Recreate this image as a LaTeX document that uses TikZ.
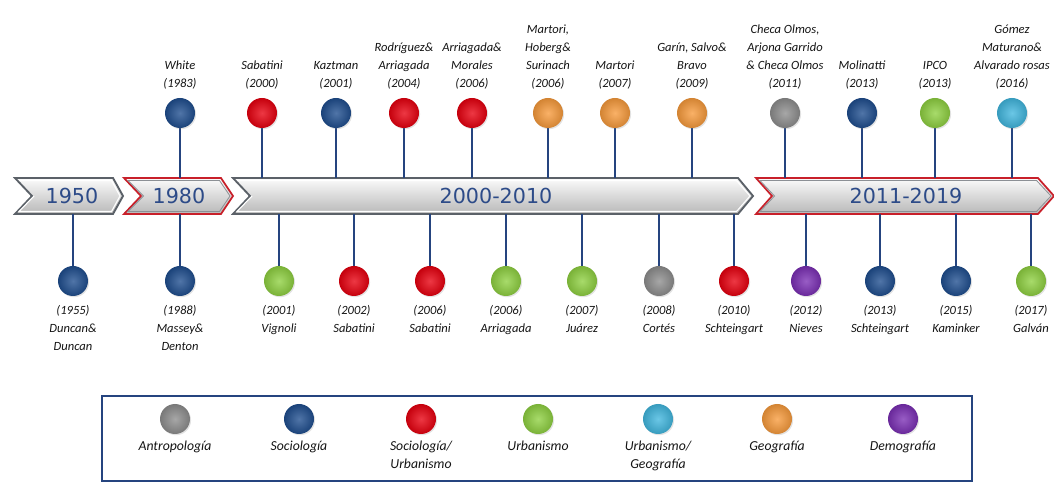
\documentclass[tikz,border=0pt]{standalone}
\usepackage{fontspec}
\setmainfont{Carlito}
\newfontfamily\ribfont{DejaVu Sans}
\usetikzlibrary{shadows}
\definecolor{cAnt}{HTML}{8E8E8E}
\definecolor{cSoc}{HTML}{1F4E8F}
\definecolor{cSU}{HTML}{E8000F}
\definecolor{cUrb}{HTML}{8FD141}
\definecolor{cUG}{HTML}{41B7DF}
\definecolor{cGeo}{HTML}{F89B3C}
\definecolor{cDem}{HTML}{7B2FB5}
\definecolor{stemc}{HTML}{25447F}
\definecolor{ribtext}{HTML}{2D4B88}
\definecolor{ribedge}{HTML}{5B6168}
\definecolor{ribred}{HTML}{C8202A}
\begin{document}
\begin{tikzpicture}[x=0.75pt,y=-0.75pt,
  pinball/.style={circle, inner sep=0pt, minimum size=22.5pt, shading=radial,
    inner color=#1!78!white, outer color=#1!85!black,
    drop shadow={opacity=0.22,shadow xshift=0.8pt,shadow yshift=-0.9pt}},
  lab/.style={align=center, font=\fontsize{9.4}{13.4}\selectfont\itshape, text=black!92, inner sep=0pt},
  leglab/.style={align=center, font=\fontsize{10.3}{13.5}\selectfont\itshape, text=black!92, inner sep=0pt},
  stemline/.style={draw=stemc, line width=1.8pt},
  seg/.style={top color=white!97!gray, bottom color=black!28!white, line join=miter},
  segedge/.style={draw=ribedge, line width=1.4pt, line join=miter},
  segred/.style={draw=ribred, line width=1.3pt, line join=miter},
  seginner/.style={draw=white, line width=0.8pt, line join=miter},
  ribtxt/.style={font=\ribfont\fontsize{15.5}{18}\selectfont, text=ribtext, inner sep=0pt}
]
\useasboundingbox (0,0) rectangle (1054,484);
\fill[white] (0,0) rectangle (1054,484);

% ---------------- ribbon segments ----------------
% 1950
\path[seg] (15,178) -- (113,178) -- (123,196) -- (113,214) -- (15,214) -- (32,196) -- cycle;
\draw[segedge] (15,178) -- (113,178) -- (123,196) -- (113,214) -- (15,214) -- (32,196) -- cycle;
\draw[seginner] (19,180.5) -- (111.5,180.5) -- (120,196) -- (111.5,211.5) -- (19,211.5) -- (34,196);
% 1980
\path[seg] (124,178) -- (221,178) -- (233,196) -- (221,214) -- (124,214) -- (141,196) -- cycle;
\draw[segred] (124,178) -- (221,178) -- (233,196) -- (221,214) -- (124,214) -- (141,196) -- cycle;
\draw[draw=ribedge!70, line width=0.6pt] (128,180.5) -- (219.5,180.5) -- (230,196) -- (219.5,211.5) -- (128,211.5) -- (143.5,196) -- cycle;
% 2000-2010
\path[seg] (233,178) -- (738,178) -- (753,196) -- (738,214) -- (233,214) -- (250,196) -- cycle;
\draw[segedge] (233,178) -- (738,178) -- (753,196) -- (738,214) -- (233,214) -- (250,196) -- cycle;
\draw[seginner] (237,180.5) -- (736.5,180.5) -- (750,196) -- (736.5,211.5) -- (237,211.5) -- (252,196);
% 2011-2019
\path[seg] (756,178) -- (1038,178) -- (1054,196) -- (1038,214) -- (756,214) -- (772,196) -- cycle;
\draw[segred] (756,178) -- (1038,178) -- (1054,196) -- (1038,214) -- (756,214) -- (772,196) -- cycle;
\draw[draw=ribedge!70, line width=0.6pt] (760,180.5) -- (1036.5,180.5) -- (1051,196) -- (1036.5,211.5) -- (760,211.5) -- (774.5,196) -- cycle;

\node[ribtxt] (r1950) at (72,196) {1950};
\node[ribtxt] (r1980) at (179,196) {1980};
\node[ribtxt] (r2000) at (496,196) {2000-2010};
\node[ribtxt] (r2011) at (906,196) {2011-2019};

\coordinate (ribtop) at (0,178);
\coordinate (ribbot) at (0,214);

% ---------------- top pins ----------------
\foreach \i/\x/\c/\t in {
  1/180/cSoc/{White\\(1983)},
  2/262/cSU/{Sabatini\\(2000)},
  3/336/cSoc/{Kaztman\\(2001)},
  4/404/cSU/{Rodríguez\&\\Arriagada\\(2004)},
  5/472/cSU/{Arriagada\&\\Morales\\(2006)},
  6/548/cGeo/{Martori,\\Hoberg\&\\Surinach\\(2006)},
  7/615/cGeo/{Martori\\(2007)},
  8/692/cGeo/{Garín, Salvo\&\\Bravo\\(2009)},
  9/785/cAnt/{Checa Olmos,\\Arjona Garrido\\\& Checa Olmos\\(2011)},
  10/862/cSoc/{Molinatti\\(2013)},
  11/935/cUrb/{IPCO\\(2013)},
  12/1012/cUG/{Gómez\\Maturano\&\\Alvarado rosas\\(2016)}}
{
  \coordinate (tp\i) at (\x,113);
  \draw[stemline] (tp\i) -- (tp\i |- ribtop);
  \node[pinball=\c] (t\i) at (tp\i) {};
  \node[lab, anchor=south] (tl\i) at (\x,89) {\t};
}

% ---------------- bottom pins ----------------
\foreach \i/\x/\c/\t in {
  1/73/cSoc/{(1955)\\Duncan\&\\Duncan},
  2/180/cSoc/{(1988)\\Massey\&\\Denton},
  3/279/cUrb/{(2001)\\Vignoli},
  4/354/cSU/{(2002)\\Sabatini},
  5/430/cSU/{(2006)\\Sabatini},
  6/506/cUrb/{(2006)\\Arriagada},
  7/582/cUrb/{(2007)\\Juárez},
  8/659/cAnt/{(2008)\\Cortés},
  9/734/cSU/{(2010)\\Schteingart},
  10/806/cDem/{(2012)\\Nieves},
  11/880/cSoc/{(2013)\\Schteingart},
  12/956/cSoc/{(2015)\\Kaminker},
  13/1031/cUrb/{(2017)\\Galván}}
{
  \coordinate (bp\i) at (\x,281);
  \draw[stemline] (bp\i |- ribbot) -- (bp\i);
  \node[pinball=\c] (b\i) at (bp\i) {};
  \node[lab, anchor=north] (bl\i) at (\x,305) {\t};
}

% ---------------- legend ----------------
\draw[draw=stemc, line width=1.7pt, fill=white,
      drop shadow={opacity=0.2,shadow xshift=1pt,shadow yshift=-1pt}]
  (102,396) rectangle (972,481);
\foreach \i/\x/\c/\t in {
  1/175/cAnt/{Antropología},
  2/299/cSoc/{Sociología},
  3/421/cSU/{Sociología/\\Urbanismo},
  4/538/cUrb/{Urbanismo},
  5/658/cUG/{Urbanismo/\\Geografía},
  6/777/cGeo/{Geografía},
  7/903/cDem/{Demografía}}
{
  \node[pinball=\c] (lg\i) at (\x,419) {};
  \node[leglab, anchor=north] (lgl\i) at (\x,441) {\t};
}
\end{tikzpicture}
\end{document}
